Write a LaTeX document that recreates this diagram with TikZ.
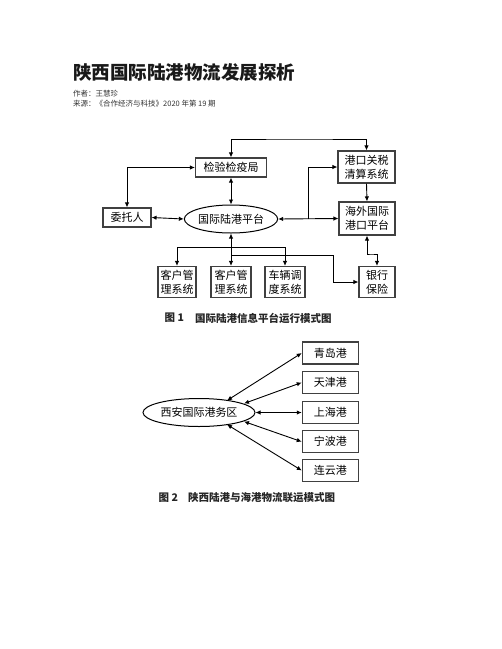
\documentclass[tikz,border=0pt]{standalone}
\usepackage{fontspec}
\setmainfont{Noto Sans CJK SC}
\usetikzlibrary{arrows.meta,shapes.geometric}
\begin{document}
\begin{tikzpicture}[x=1pt,y=-1pt,
  box/.style={draw=black!75,line width=1.1pt,minimum width=#1,inner sep=0pt,font=\fontsize{11}{14}\selectfont,align=center},
  box/.default=40pt,
  lnk/.style={line width=0.9pt,black},
  tip/.style={-{Latex[length=5pt,width=4.5pt]}},
  tips/.style={{Latex[length=5pt,width=4.5pt]}-{Latex[length=5pt,width=4.5pt]}},
  oval/.style={draw,ellipse,line width=1pt,inner sep=0pt,font=\fontsize{11}{14}\selectfont},
  figcap/.style={font=\fontsize{10.5}{12}\bfseries\selectfont,anchor=west,inner sep=0pt,text=black!85}]
\useasboundingbox (0,0) rectangle (502,649);
% header
\node[anchor=west,inner sep=0pt,font=\fontsize{18.5}{20}\bfseries\selectfont,text=black!90] (title) at (73,72) {陕西国际陆港物流发展探析};
\node[anchor=west,inner sep=0pt,font=\fontsize{7.5}{9}\selectfont,text=black!80] (author) at (73,93.5) {作者：王慧珍};
\node[anchor=west,inner sep=0pt,font=\fontsize{7.5}{9}\selectfont,text=black!80] (source) at (73,103.5) {来源：《合作经济与科技》2020 年第 19 期};
% figure 1
\node[box=71pt,minimum height=19pt] (jy) at (231,167.5) {检验检疫局};
\node[box=57pt,minimum height=32pt] (gk) at (366.5,167) {港口关税\\清算系统};
\node[box=56pt,minimum height=33pt] (hw) at (367,218.5) {海外国际\\港口平台};
\node[box=48pt,minimum height=19pt] (wt) at (127,217.5) {委托人};
\node[oval,minimum width=92pt,minimum height=28pt] (pt) at (231,219) {国际陆港平台};
\node[box=38pt,minimum height=31pt] (b1) at (177,282) {客户管\\理系统};
\node[box=40pt,minimum height=31pt] (b2) at (231,282) {客户管\\理系统};
\node[box=40pt,minimum height=31pt] (b3) at (285,282) {车辆调\\度系统};
\node[box=36pt,minimum height=31pt] (yh) at (377,282) {银行\\保险};
% connectors
\draw[lnk,tips] (jy.north) |- (300,139) -| (gk.north);
\draw[lnk,tips] (wt.north) |- (jy.west);
\draw[lnk,tips] (jy.south) -- (pt.north);
\draw[lnk,tips] (wt.east) -- (pt.west);
\draw[lnk,tips] (pt.east) -- (hw.west);
\coordinate (br) at (308,219);
\draw[lnk,tip] (br) |- (gk.west);
\draw[lnk,tip] (gk.south) -- (hw.south |- hw.north);
\coordinate (hb) at (371,254);
\draw[lnk,tips] (hw.south) |- (hb) -| (yh.north);
\draw[lnk,tips] (pt.south) -- (b2.north);
\coordinate (l1) at (231,247.5);
\draw[lnk,tip] (l1) -| (b1.north);
\draw[lnk,tip] (l1) -| (b3.north);
\coordinate (l2) at (231,255);
\coordinate (l3) at (333,282);
\draw[lnk,tip] (l2) -| (l3) -- (yh.west);
\node[figcap] (cap1n) at (164.5,318) {图 1};
\node[figcap] (cap1) at (195,318) {国际陆港信息平台运行模式图};
% figure 2
\node[oval,minimum width=112pt,minimum height=28pt] (xa) at (199,412.5) {西安国际港务区};
\node[box=56pt,minimum height=22pt] (qd) at (330.3,353) {青岛港};
\node[box=56pt,minimum height=22pt] (tj) at (330.3,382.5) {天津港};
\node[box=56pt,minimum height=22pt] (sh) at (330.3,412.5) {上海港};
\node[box=56pt,minimum height=22pt] (nb) at (330.3,441.7) {宁波港};
\node[box=56pt,minimum height=22pt] (ly) at (330.3,470.5) {连云港};
\coordinate (t1) at (227,400.5);
\coordinate (t2) at (244,403.5);
\coordinate (t4) at (244,421.5);
\coordinate (t5) at (227,424.5);
\draw[lnk,tips] (t1) -- (qd.west);
\draw[lnk,tips] (t2) -- (tj.west);
\draw[lnk,tips] (xa.east) -- (sh.west);
\draw[lnk,tips] (t4) -- (nb.west);
\draw[lnk,tips] (t5) -- (ly.west);
\node[figcap] (cap2n) at (158.5,497.5) {图 2};
\node[figcap] (cap2) at (188,497.5) {陕西陆港与海港物流联运模式图};
\end{tikzpicture}
\end{document}
